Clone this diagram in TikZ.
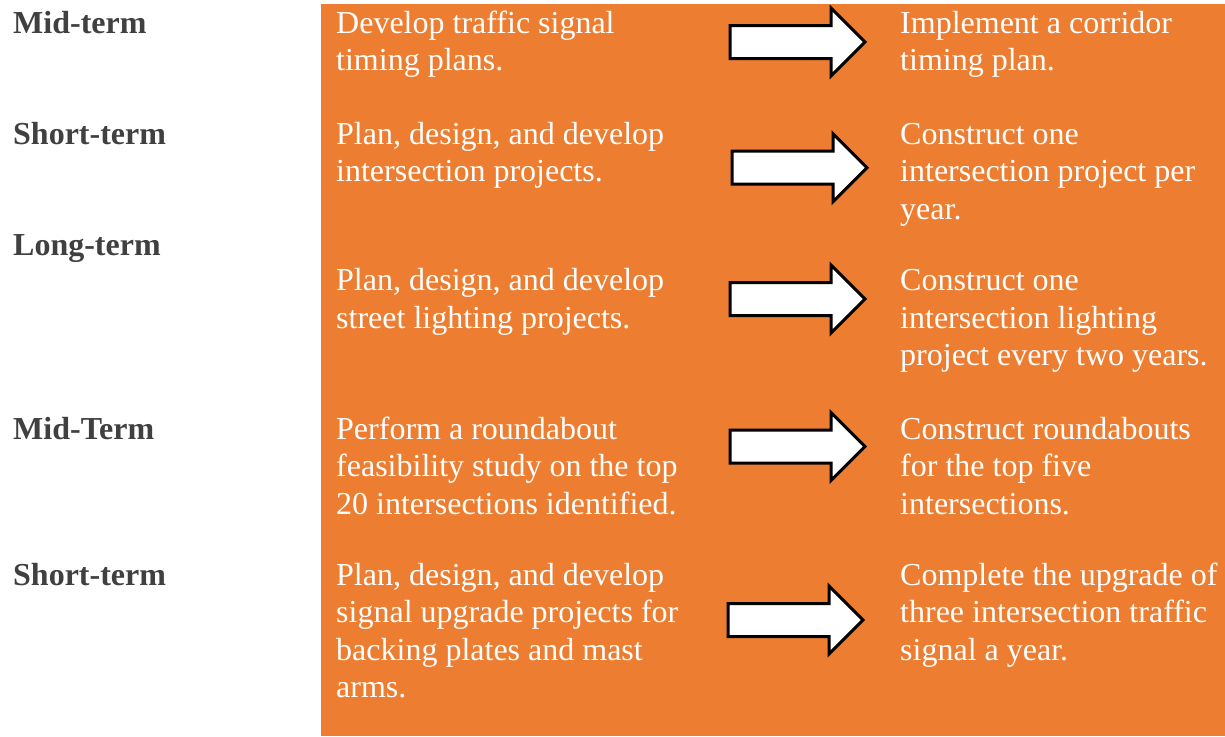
\documentclass[tikz,border=0pt]{standalone}
\usepackage{fontspec}
\setmainfont{Liberation Serif}
\definecolor{panel}{HTML}{ED7D31}
\definecolor{termgray}{HTML}{404040}
\begin{document}
\begin{tikzpicture}[x=1pt,y=-1pt,
  term/.style={anchor=base west,inner sep=0pt,text=termgray,
    font=\fontsize{32}{37.5}\selectfont\bfseries},
  % multi-line texts are placed by the baseline of their last line
  task/.style={anchor=base west,inner sep=0pt,text=white,align=left,
    font=\fontsize{32}{37.5}\selectfont},
  arrowline/.style={draw=black,fill=white,line width=3pt,line join=miter},
  blockarrow/.pic={\path[arrowline] (0,-16.5) -- (101,-16.5) -- (101,-34)
    -- (135,0) -- (101,34) -- (101,16.5) -- (0,16.5) -- cycle;}]
\useasboundingbox (0,0) rectangle (1225,736);
\fill[white] (0,0) rectangle (1225,736);
\fill[panel] (321,4) rectangle (1225,736);

% time-frame labels
\node[term] (t1) at (13,33.3) {Mid-term};
\node[term] (t2) at (13,144) {Short-term};
\node[term] (t3) at (13,255) {Long-term};
\node[term] (t4) at (13,439) {Mid-Term};
\node[term] (t5) at (13,585) {Short-term};

% actions
\node[task] (a1) at (336,70.8) {Develop traffic signal\\timing plans.};
\node[task] (a2) at (336,181.5) {Plan, design, and develop\\intersection projects.};
\node[task] (a3) at (336,328.2) {Plan, design, and develop\\street lighting projects.};
\node[task] (a4) at (336,514) {Perform a roundabout\\feasibility study on the top\\20 intersections identified.};
\node[task] (a5) at (336,697.5) {Plan, design, and develop\\signal upgrade projects for\\backing plates and mast\\arms.};

% outcomes
\node[task] (o1) at (900,70.8) {Implement a corridor\\timing plan.};
\node[task] (o2) at (900,219) {Construct one\\intersection project per\\year.};
\node[task] (o3) at (900,365.7) {Construct one\\intersection lighting\\project every two years.};
\node[task] (o4) at (900,514) {Construct roundabouts\\for the top five\\intersections.};
\node[task] (o5) at (900,660) {Complete the upgrade of\\three intersection traffic\\signal a year.};

% block arrows between action and outcome
\pic (r1) at (730,42) {blockarrow};
\pic (r2) at (732,167.7) {blockarrow};
\pic (r3) at (730,299) {blockarrow};
\pic (r4) at (730,446.5) {blockarrow};
\pic (r5) at (728,620) {blockarrow};
\end{tikzpicture}
\end{document}
